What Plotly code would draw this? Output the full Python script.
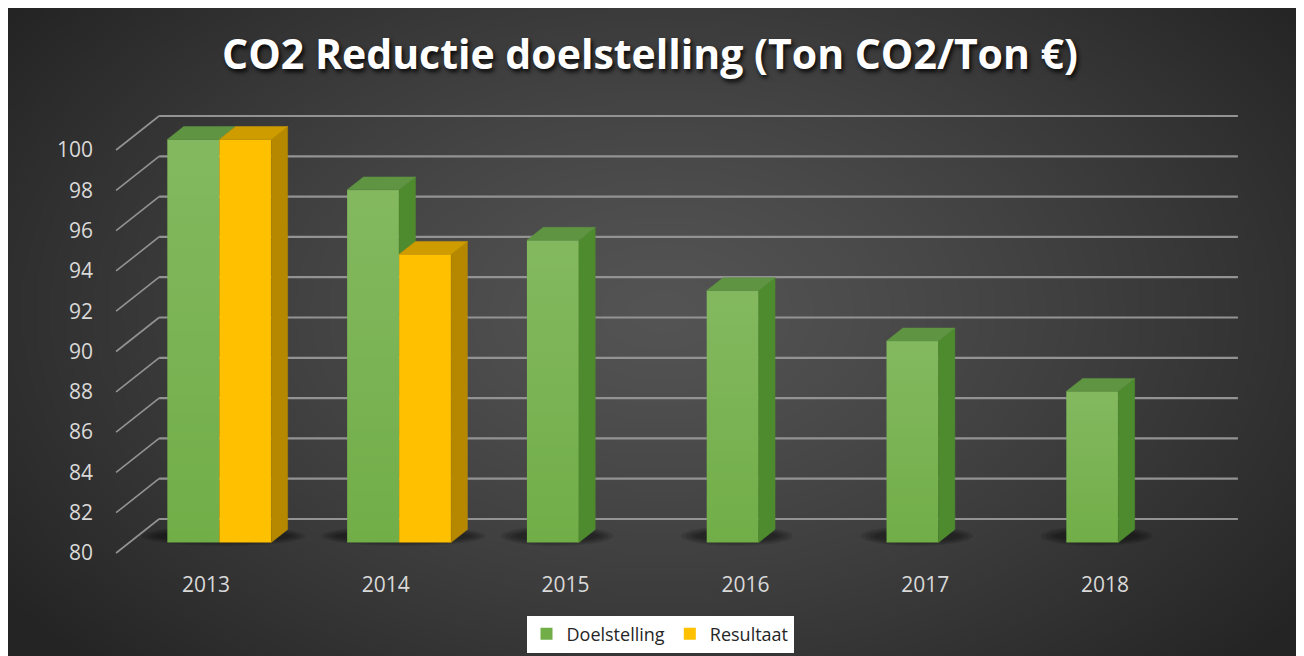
import base64
import struct
import zlib

import numpy as np
import plotly.graph_objects as go

# ---------------- data ----------------
years = ["2013", "2014", "2015", "2016", "2017", "2018"]
doelstelling = [100, 97.5, 95, 92.5, 90, 87.5]
resultaat = [100, 94.3, None, None, None, None]
y_ticks = [80, 82, 84, 86, 88, 90, 92, 94, 96, 98, 100]
title_text = "CO2 Reductie doelstelling (Ton CO2/Ton €)"

# ---------------- geometry / style ----------------
W, H = 1304, 656
SX, SY = 179.8, 20.15          # px per category / px per unit
X0_PX, Y80_PX = 198, 545        # pixel of category 0 / value 80 on the front floor
BASE = 80
xmin = -X0_PX / SX
xmax = xmin + W / SX
ymin = BASE - (H - Y80_PX) / SY
ymax = ymin + H / SY
DX, DY = 43 / SX, 34 / SY       # full depth of the 3D floor in data units
F0, F1 = 0.31, 0.69             # bar front / back depth fraction
BW = 52 / SX                    # bar width
DDX, DDY = (F1 - F0) * DX, (F1 - F0) * DY

GREEN = dict(front="#71ae48", top="#5f9442", side="#4e8a2e")
YELLOW = dict(front="#ffc000", top="#cf9c00", side="#b58800")
GRID = "#939393"
TICK_FONT = dict(family="Open Sans", size=21, color="#d9d9d9")


def png_uri(rgb):
    h, w, _ = rgb.shape
    raw = b"".join(b"\x00" + rgb[r].tobytes() for r in range(h))

    def chunk(t, d):
        return struct.pack(">I", len(d)) + t + d + struct.pack(">I", zlib.crc32(t + d) & 0xFFFFFFFF)

    png = (b"\x89PNG\r\n\x1a\n" + chunk(b"IHDR", struct.pack(">IIBBBBB", w, h, 8, 2, 0, 0, 0))
           + chunk(b"IDAT", zlib.compress(raw, 9)) + chunk(b"IEND", b""))
    return "data:image/png;base64," + base64.b64encode(png).decode()


# radial background gradient
gw, gh = 326, 164
yy, xx = np.mgrid[0:gh, 0:gw]
d = np.sqrt(((xx / gw - 0.5) / 0.62) ** 2 + ((yy / gh - 0.46) / 0.78) ** 2)
t = np.clip(d, 0, 1) ** 1.25
val = 84 + (36 - 84) * t
bg = np.repeat(val[:, :, None], 3, axis=2).astype(np.uint8)
bg_uri = png_uri(bg)

fig = go.Figure()

# ---- back wall gridlines and left floor diagonals (front-floor coordinates) ----
gx, gy, dxs, dys = [], [], [], []
for v in y_ticks:
    gx += [-0.5 + DX, len(years) - 0.5 + DX, None]
    gy += [v + DY, v + DY, None]
    dxs += [-0.5, -0.5 + DX, None]
    dys += [v, v + DY, None]
fig.add_trace(go.Scatter(x=gx, y=gy, mode="lines", line=dict(color=GRID, width=2.2),
                         hoverinfo="skip", showlegend=False))
fig.add_trace(go.Scatter(x=dxs, y=dys, mode="lines", line=dict(color=GRID, width=1.6),
                         hoverinfo="skip", showlegend=False))

# ---- soft shadows under each group ----
theta = np.linspace(0, 2 * np.pi, 60)
fm = (F0 + F1) / 2
for i, dv in enumerate(doelstelling):
    left = i - BW
    right = i + (BW if resultaat[i] is not None else 0)
    cx = (left + right) / 2 + fm * DX - 4 / SX
    cy = BASE + fm * DY
    for sc in [1.0, 0.85, 0.7, 0.55]:
        rx = (right - left) / 2 + (30 / SX) * sc
        ry = (10 / SY) * sc
        fig.add_trace(go.Scatter(x=list(cx + rx * np.cos(theta)), y=list(cy + ry * np.sin(theta)),
                                 fill="toself", fillcolor="rgba(0,0,0,0.12)", mode="lines",
                                 line=dict(width=0), hoverinfo="skip", showlegend=False))

# ---- bars (front faces) on the overlay axes ----
series = [("Doelstelling", doelstelling, -BW, GREEN), ("Resultaat", resultaat, 0.0, YELLOW)]
for name, vals, off, col in series:
    xs = [i for i, v in enumerate(vals) if v is not None]
    ys = [v - BASE for v in vals if v is not None]
    fig.add_trace(go.Bar(x=xs, y=ys, base=BASE, width=BW, offset=off, name=name,
                         marker=dict(color=col["front"], line=dict(width=0)),
                         xaxis="x2", yaxis="y2", hovertemplate="%{x}: %{y}<extra></extra>"))

# subtle light gradient on the green front faces
for i, v in enumerate(doelstelling):
    a = i - BW
    b = i
    fig.add_trace(go.Scatter(x=[a, b, b, a, a], y=[BASE, BASE, v, v, BASE], fill="toself",
                             fillgradient=dict(type="vertical",
                                               colorscale=[[0, "rgba(255,255,255,0)"],
                                                           [1, "rgba(255,255,255,0.13)"]]),
                             mode="lines", line=dict(width=0), xaxis="x2", yaxis="y2",
                             hoverinfo="skip", showlegend=False))

# ---- 3D top and side faces ----
for s, (name, vals, off, col) in enumerate(series):
    tx, ty, sx, sy = [], [], [], []
    for i, v in enumerate(vals):
        if v is None:
            continue
        a = i + off
        b = a + BW
        tx += [a, b, b + DDX, a + DDX, a, None]
        ty += [v, v, v + DDY, v + DDY, v, None]
        lo = BASE
        if s + 1 < len(series) and series[s + 1][1][i] is not None:
            lo = max(BASE, series[s + 1][1][i])
        if v > lo:
            sx += [b, b, b + DDX, b + DDX, b, None]
            sy += [lo, v, v + DDY, lo + DDY, lo, None]
    fig.add_trace(go.Scatter(x=sx, y=sy, fill="toself", fillcolor=col["side"], mode="lines",
                             line=dict(width=0.5, color=col["side"]), xaxis="x2", yaxis="y2",
                             hoverinfo="skip", showlegend=False))
    fig.add_trace(go.Scatter(x=tx, y=ty, fill="toself", fillcolor=col["top"], mode="lines",
                             line=dict(width=0.5, color=col["top"]), xaxis="x2", yaxis="y2",
                             hoverinfo="skip", showlegend=False))

fig.update_layout(
    width=W, height=H,
    margin=dict(l=0, r=0, t=0, b=0),
    paper_bgcolor="white",
    plot_bgcolor="rgba(0,0,0,0)",
    barmode="overlay",
    images=[dict(source=bg_uri, xref="paper", yref="paper", x=0, y=1,
                 sizex=1, sizey=1, sizing="stretch",
                 xanchor="left", yanchor="top", layer="below")],
    title=dict(text=title_text, x=642 / W, xanchor="center", y=1 - 47 / H, yanchor="middle",
               font=dict(family="Open Sans", size=41, color="white", weight="bold",
                         shadow="2px 3px 4px rgba(0,0,0,0.85)")),
    xaxis=dict(range=[xmin, xmax], domain=[0, 1], tickvals=list(range(len(years))), ticktext=years,
               anchor="free", position=0.1427, showgrid=False, zeroline=False, showline=False,
               ticks="", tickfont=TICK_FONT, fixedrange=True),
    yaxis=dict(range=[ymin, ymax], domain=[0, 1], tickvals=y_ticks, anchor="free", position=85 / W,
               showgrid=False, zeroline=False, showline=False, ticks="", tickfont=TICK_FONT,
               fixedrange=True),
    xaxis2=dict(range=[xmin - F0 * DX, xmax - F0 * DX], overlaying="x", anchor="y2", visible=False),
    yaxis2=dict(range=[ymin - F0 * DY, ymax - F0 * DY], overlaying="y", anchor="x2", visible=False),
    legend=dict(orientation="h", x=0.5, xanchor="center", y=(H - 626) / H, yanchor="middle",
                bgcolor="white", font=dict(family="Open Sans", size=18, color="#262626"),
                itemwidth=30, traceorder="normal"),
    showlegend=True,
)

fig.write_html("out.html")
